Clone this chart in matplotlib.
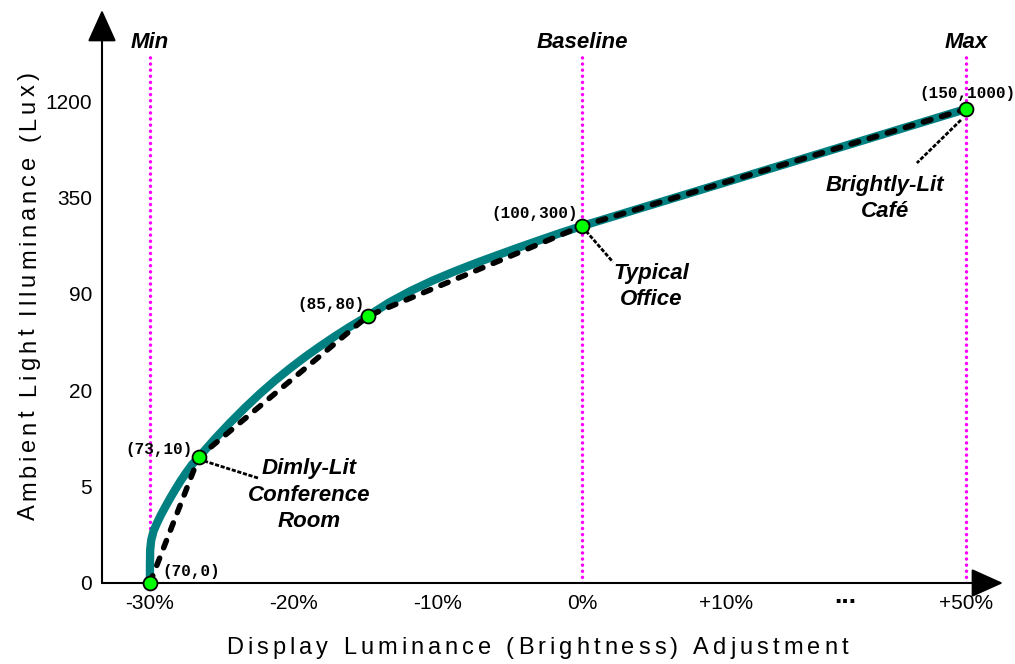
import matplotlib
matplotlib.use("Agg")
import matplotlib.pyplot as plt
import matplotlib.transforms as mtransforms
from matplotlib.font_manager import FontProperties
from matplotlib.textpath import text_to_path

W, H = 1015, 664

# tick positions are evenly spaced, the scale itself is not linear
x_tick_labels = ['-30%', '-20%', '-10%', '0%', '+10%', '...', '+50%']
x_tick_pos = [0, 1, 2, 3, 4, 4.83, 5.667]
y_tick_labels = ['0', '5', '20', '90', '350', '1200']
y_tick_pos = [0, 1, 2, 3, 4, 5]

# key points (brightness, lux) and where they sit on the chart
point_labels = ['(70,0)', '(73,10)', '(85,80)', '(100,300)', '(150,1000)']
point_x = [0, 0.34, 1.514, 3.0, 5.667]
point_y = [0, 1.307, 2.770, 3.703, 4.917]

# smooth teal curve
curve_x = [0, 0.0, 0.0014, 0.009, 0.025, 0.049, 0.076, 0.106, 0.141, 0.174, 0.2125, 0.25,
           0.29, 0.34,
           0.451, 0.556, 0.660, 0.764, 0.868, 0.972, 1.076, 1.181, 1.285, 1.389, 1.514,
           1.6625, 1.811, 1.960, 2.108, 2.257, 2.406, 2.554, 2.703, 2.851, 3.0,
           5.667]
curve_y = [0, 0.187, 0.342, 0.446, 0.539, 0.622, 0.705, 0.788, 0.882, 0.965, 1.058, 1.141,
           1.224, 1.307,
           1.496, 1.662, 1.818, 1.964, 2.100, 2.226, 2.344, 2.455, 2.560, 2.659, 2.770,
           2.911, 3.030, 3.135, 3.228, 3.315, 3.397, 3.477, 3.555, 3.631, 3.703,
           4.917]

marker_x = [0, 3.0, 5.667]
marker_names = ['Min', 'Baseline', 'Max']

fig = plt.figure(figsize=(W / 100, H / 100), dpi=100)
ax = fig.add_axes([102 / W, (H - 583) / H, (1003 - 102) / W, (583 - 10) / H])
ax.set_xlim(-0.333, 5.924)
ax.set_ylim(0, 5.944)
for s in ax.spines.values():
    s.set_visible(False)

# axes with arrow heads
arrow = dict(arrowstyle='-|>,head_length=1.0,head_width=0.45', mutation_scale=20,
             lw=1.5, color='black', shrinkA=0, shrinkB=0)
ax.annotate('', xy=(1, 0), xytext=(0, 0), xycoords='axes fraction', arrowprops=arrow,
            annotation_clip=False)
ax.annotate('', xy=(0, 1), xytext=(0, 0), xycoords='axes fraction', arrowprops=arrow,
            annotation_clip=False)

ax.set_xticks(x_tick_pos, x_tick_labels)
ax.set_yticks(y_tick_pos, y_tick_labels)
ax.tick_params(length=0, labelsize=15)
ax.tick_params(axis='x', pad=8)
ax.tick_params(axis='y', pad=7)
for lab in ax.get_xticklabels() + ax.get_yticklabels():
    lab.set_fontfamily('Liberation Sans')
dots = ax.get_xticklabels()[5]
dots.set_fontweight('bold')
dots.set_fontsize(19)
dots.set_transform(dots.get_transform() +
                   mtransforms.ScaledTranslation(0, 7 / 72, fig.dpi_scale_trans))

# min / baseline / max guides
for xm, name in zip(marker_x, marker_names):
    ax.plot([xm, xm], [0, 5.456], color='#ff00ff', lw=2.5, ls=(0, (0.01, 1.75)),
            dash_capstyle='round', zorder=1)
    ax.text(xm, 5.602, name, ha='center', va='center', fontsize=16,
            fontweight='bold', fontstyle='italic', family='Liberation Sans')

ax.plot(curve_x, curve_y, color='#008080', lw=6, solid_capstyle='butt',
        solid_joinstyle='round', zorder=2)
dash, = ax.plot(point_x, point_y, color='black', lw=4, zorder=3,
                dash_capstyle='round', solid_joinstyle='round')
dash.set_dashes((1.4, 2.0))
ax.plot(point_x, point_y, 'o', ms=10, mfc='#00ff00', mec='black', mew=1.3,
        zorder=5, clip_on=False)

# point labels
mono = dict(family='Liberation Mono', fontweight='bold', fontsize=11.5, va='center')
ax.text(0.083, 0.124, point_labels[0], ha='left', **mono)
ax.text(0.299, 1.39, point_labels[1], ha='right', **mono)
ax.text(1.493, 2.894, point_labels[2], ha='right', **mono)
ax.text(2.972, 3.828, point_labels[3], ha='right', **mono)
ax.text(5.674, 5.083, point_labels[4], ha='center', **mono)

# callouts
call = dict(ha='center', va='center', fontsize=16, fontweight='bold', fontstyle='italic',
            family='Liberation Sans', linespacing=1.35)
lead = dict(color='black', lw=2, ls=(0, (1.5, 0.6)), zorder=4)
ax.text(1.104, 0.91, 'Dimly-Lit\nConference\nRoom', **call)
ax.plot([0.375, 0.75], [1.266, 1.089], **lead)
ax.text(3.479, 3.075, 'Typical\nOffice', **call)
ax.plot([3.028, 3.215], [3.651, 3.330], **lead)
ax.text(5.104, 3.99, 'Brightly-Lit\nCafé', **call)
ax.plot([5.632, 5.326], [4.803, 4.357], **lead)


def advance(ch, prop):
    # glyph advance in pixels, measured between two bars
    w2 = text_to_path.get_text_width_height_descent('||', prop, ismath=False)[0]
    w3 = text_to_path.get_text_width_height_descent('|' + ch + '|', prop, ismath=False)[0]
    return (w3 - w2) * 100 / 72


def spaced_text(s, cx, base, size, total, rotation=0):
    # letter-spaced label, one glyph at a time
    prop = FontProperties(family='Liberation Sans', size=size)
    adv = [advance(ch, prop) for ch in s]
    gap = (total - sum(adv)) / (len(s) - 1)
    pos = -total / 2
    for ch, a in zip(s, adv):
        c = pos + a / 2
        if ch != ' ':
            if rotation == 0:
                x, y = cx + c, base
            else:
                x, y = base, cx - c
            fig.text(x / W, 1 - y / H, ch, ha='center', va='baseline', fontsize=size,
                     family='Liberation Sans', rotation=rotation, rotation_mode='anchor')
        pos += a + gap


spaced_text('Display Luminance (Brightness) Adjustment', 537, 654, 17, 622)
spaced_text('Ambient Light Illuminance (Lux)', 296, 35, 17, 448, rotation=90)

fig.savefig('out.png', dpi=100)
